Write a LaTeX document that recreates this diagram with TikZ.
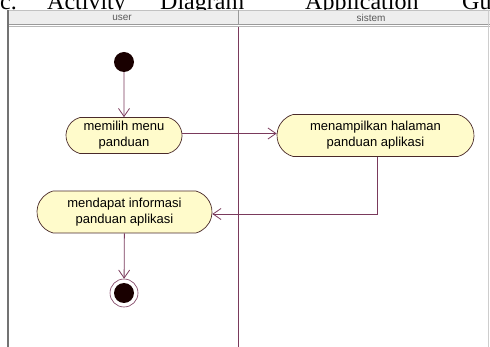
\documentclass[tikz,border=0pt]{standalone}
\usepackage{fontspec}
\setmainfont{Liberation Serif}
\newfontfamily\umlfont{Liberation Sans}
\usetikzlibrary{arrows.meta,shapes.misc}
\definecolor{lane}{HTML}{7A3A5C}
\definecolor{actfill}{HTML}{FFFBCB}
\definecolor{actdraw}{HTML}{4A2A2A}
\definecolor{hdrfill}{HTML}{EEEEEE}
\definecolor{hdrline}{HTML}{9A9A9A}
\tikzset{
  act/.style={rounded rectangle, rounded rectangle arc length=150, draw=actdraw, fill=actfill, line width=0.7pt,
    inner sep=0pt, align=center, font=\umlfont\fontsize{13}{16}\selectfont, text=black},
  flow/.style={draw=lane, line width=0.8pt, -{Straight Barb[length=8pt,width=11pt,line width=0.8pt]}},
  startnode/.style={circle, fill=black!90!red, minimum size=20pt, inner sep=0pt},
  endnode/.style={circle, draw=lane, fill=white, line width=0.6pt, minimum size=28pt, inner sep=0pt},
  caption/.style={anchor=base west, inner sep=0pt, font=\fontsize{24}{28}\selectfont},
  hdr/.style={font=\umlfont\fontsize{10}{12}\selectfont, text=black!65, inner sep=0pt}
}
\begin{document}
\begin{tikzpicture}[x=1pt,y=-1pt]
\useasboundingbox (0,0) rectangle (490,347);
% caption (clipped at top, as in the reference)
\node[caption] (c1) at (0,9.5) {c.};
\node[caption] (c2) at (47,9.5) {Activity};
\node[caption] (c3) at (160,9.5) {Diagram};
\node[caption] (c4) at (305,9.5) {Application};
\node[caption] (c5) at (462,9.5) {Gu};
% header
\fill[hdrfill] (7,10) rectangle (490,25);
\draw[hdrline, line width=0.8pt] (7,24.5) -- (490,24.5);
\draw[hdrline!70, line width=0.6pt] (7,26.5) -- (490,26.5);
\draw[hdrline!60, line width=0.6pt] (7,10.5) -- (490,10.5);
\draw[hdrline, line width=0.8pt] (238,10) -- (238,25);
\draw[hdrline!50, line width=0.5pt] (488,10) -- (488,347);
\node[hdr] (h1) at (122,18) {user};
\node[hdr] (h2) at (371,18) {sistem};
% frame left border and lane divider
\draw[black!55, line width=2pt] (8,10) -- (8,347);
\draw[lane, line width=0.8pt] (238,27) -- (238,347);
% nodes
\node[startnode] (s) at (124,62) {};
\node[act, minimum width=116pt, minimum height=36pt] (a1) at (124,135.5) {memilih menu\\panduan};
\node[act, minimum width=197pt, minimum height=42pt] (a2) at (375.5,135.5) {menampilkan halaman\\panduan aplikasi};
\node[act, minimum width=175pt, minimum height=42pt] (a3) at (124.5,212) {mendapat informasi\\panduan aplikasi};
\node[endnode] (e) at (124,293) {};
\node[circle, fill=black!90!red, minimum size=20pt, inner sep=0pt] (ei) at (e.center) {};
% flows
\coordinate (j1) at (a1.east |- 0,133.5);
\draw[flow] (j1) -- (j1 -| a2.west);
\draw[flow] (a2.south -| 377,0) |- ([yshift=-2pt]a3.east);
\draw[flow] (s) -- (a1);
\draw[flow] (a3) -- (e);
\end{tikzpicture}
\end{document}
